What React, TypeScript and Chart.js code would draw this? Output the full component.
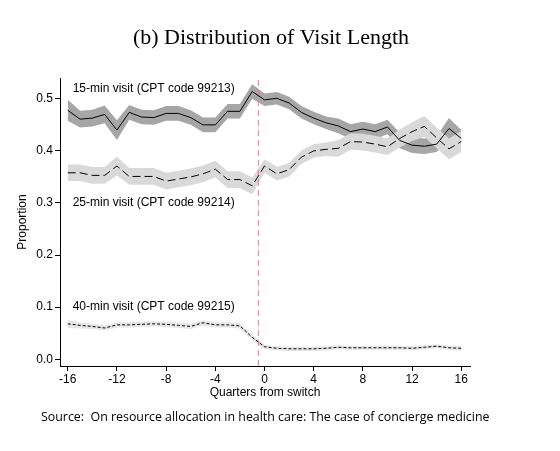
import React, { useEffect, useRef } from "react";
import { Chart, registerables } from "chart.js";

Chart.register(...registerables);

// ---- data ----
const quarters = [-16, -15, -14, -13, -12, -11, -10, -9, -8, -7, -6, -5, -4, -3, -2, -1, 0, 1, 2, 3, 4, 5, 6, 7, 8, 9, 10, 11, 12, 13, 14, 15, 16];

const visit15 = [0.478, 0.461, 0.463, 0.470, 0.440, 0.474, 0.465, 0.464, 0.472, 0.472, 0.464, 0.450, 0.450, 0.476, 0.476, 0.514, 0.498, 0.501, 0.492, 0.474, 0.463, 0.454, 0.448, 0.437, 0.442, 0.437, 0.446, 0.420, 0.411, 0.409, 0.413, 0.443, 0.424];
const visit15Ci = [0.020, 0.016, 0.016, 0.017, 0.019, 0.014, 0.014, 0.014, 0.014, 0.014, 0.014, 0.014, 0.014, 0.014, 0.014, 0.014, 0.012, 0.012, 0.012, 0.012, 0.012, 0.012, 0.014, 0.014, 0.014, 0.014, 0.014, 0.015, 0.015, 0.015, 0.015, 0.020, 0.016];

const visit25 = [0.358, 0.358, 0.353, 0.353, 0.371, 0.351, 0.351, 0.351, 0.342, 0.346, 0.350, 0.356, 0.365, 0.345, 0.345, 0.333, 0.371, 0.356, 0.364, 0.388, 0.400, 0.403, 0.405, 0.418, 0.417, 0.413, 0.408, 0.424, 0.437, 0.447, 0.425, 0.404, 0.418];
const visit25Ci = [0.016, 0.016, 0.016, 0.016, 0.018, 0.016, 0.016, 0.016, 0.016, 0.016, 0.016, 0.016, 0.016, 0.016, 0.016, 0.016, 0.013, 0.013, 0.013, 0.013, 0.013, 0.013, 0.016, 0.016, 0.016, 0.016, 0.016, 0.017, 0.018, 0.020, 0.020, 0.020, 0.020];

const visit40 = [0.068, 0.065, 0.063, 0.060, 0.066, 0.066, 0.067, 0.068, 0.067, 0.065, 0.063, 0.070, 0.066, 0.066, 0.064, 0.042, 0.024, 0.021, 0.020, 0.020, 0.020, 0.021, 0.023, 0.022, 0.022, 0.022, 0.022, 0.022, 0.021, 0.023, 0.025, 0.022, 0.021];
const visit40Ci = [0.008, 0.006, 0.005, 0.005, 0.005, 0.005, 0.005, 0.005, 0.005, 0.005, 0.005, 0.005, 0.005, 0.005, 0.005, 0.005, 0.004, 0.004, 0.004, 0.004, 0.004, 0.004, 0.004, 0.004, 0.004, 0.004, 0.004, 0.004, 0.004, 0.004, 0.004, 0.004, 0.005];

const xTicks = [-16, -12, -8, -4, 0, 4, 8, 12, 16];
const yTicks = [0, 0.1, 0.2, 0.3, 0.4, 0.5];
const switchQuarter = -0.5;

const seriesLabels = ["15-min visit (CPT code 99213)", "25-min visit (CPT code 99214)", "40-min visit (CPT code 99215)"];
const labelAnchorX = [-15.6, -15.6, -15.6];
const labelAnchorY = [0.52, 0.30, 0.10];

const chartTitle = "(b) Distribution of Visit Length";
const sourceNote = "Source:  On resource allocation in health care: The case of concierge medicine";

const X_MIN = -16.63;
const X_MAX = 16.71;
const Y_MIN = -0.013;
const Y_MAX = 0.54;

const pts = (vals: number[]) => quarters.map((q, i) => ({ x: q, y: vals[i] }));
const bandPts = (vals: number[], ci: number[], sign: number) =>
  quarters.map((q, i) => ({ x: q, y: vals[i] + sign * ci[i] }));

const textPlugin = {
  id: "textPlugin",
  afterDraw(chart: any) {
    const { ctx, scales } = chart;
    ctx.save();
    ctx.fillStyle = "#000";
    // series labels
    ctx.font = "12px 'Liberation Sans', Arial, sans-serif";
    ctx.textAlign = "left";
    ctx.textBaseline = "middle";
    seriesLabels.forEach((s, i) => {
      ctx.fillText(s, scales.x.getPixelForValue(labelAnchorX[i]), scales.y.getPixelForValue(labelAnchorY[i]));
    });
    // title
    ctx.font = "22px 'Liberation Serif', 'Times New Roman', serif";
    ctx.textAlign = "center";
    ctx.textBaseline = "alphabetic";
    ctx.fillText(chartTitle, 271, 44);
    // source
    ctx.font = "12.4px 'Open Sans', sans-serif";
    ctx.textAlign = "left";
    ctx.fillText(sourceNote, 41, 421);
    ctx.restore();
  },
};

export default function App() {
  const ref = useRef<HTMLCanvasElement | null>(null);

  useEffect(() => {
    if (!ref.current) return;
    const bandBase = {
      borderWidth: 0,
      borderColor: "rgba(0,0,0,0)",
      pointRadius: 0,
      tension: 0,
    };
    const lineBase = {
      borderColor: "#000",
      borderWidth: 1,
      pointRadius: 0,
      fill: false,
      tension: 0,
      order: 0,
    };
    const chart = new Chart(ref.current, {
      type: "line",
      data: {
        datasets: [
          { ...lineBase, label: "15", data: pts(visit15) },
          { ...lineBase, label: "25", data: pts(visit25), borderDash: [8, 4] },
          { ...lineBase, label: "40", data: pts(visit40), borderDash: [3, 2] },
          {
            ...lineBase,
            label: "switch",
            data: [
              { x: switchQuarter, y: Y_MIN },
              { x: switchQuarter, y: Y_MAX },
            ],
            borderColor: "#f47a7a",
            borderDash: [6, 4],
          },
          { ...bandBase, label: "lo15", data: bandPts(visit15, visit15Ci, -1), fill: false, order: 3 },
          { ...bandBase, label: "hi15", data: bandPts(visit15, visit15Ci, 1), fill: 4, backgroundColor: "#a6a6a6", order: 3 },
          { ...bandBase, label: "lo25", data: bandPts(visit25, visit25Ci, -1), fill: false, order: 2 },
          { ...bandBase, label: "hi25", data: bandPts(visit25, visit25Ci, 1), fill: 6, backgroundColor: "#d9d9d9", order: 2 },
          { ...bandBase, label: "lo40", data: bandPts(visit40, visit40Ci, -1), fill: false, order: 2 },
          { ...bandBase, label: "hi40", data: bandPts(visit40, visit40Ci, 1), fill: 8, backgroundColor: "#e6e6e6", order: 2 },
        ] as any,
      },
      options: {
        animation: false,
        responsive: true,
        maintainAspectRatio: false,
        layout: { padding: { left: 0, right: 90, top: 78, bottom: 50 } },
        plugins: {
          legend: { display: false },
          tooltip: { enabled: false },
          title: { display: false },
        },
        scales: {
          x: {
            type: "linear",
            min: X_MIN,
            max: X_MAX,
            afterFit: (s: any) => {
              s.height = 35;
            },
            afterBuildTicks: (s: any) => {
              s.ticks = xTicks.map((v) => ({ value: v }));
            },
            border: { display: true, color: "#000", width: 1 },
            grid: { display: true, drawOnChartArea: false, drawTicks: true, tickLength: 5, color: "#000" },
            ticks: {
              autoSkip: false,
              maxRotation: 0,
              padding: 1,
              color: "#000",
              font: { family: "'Liberation Sans', Arial, sans-serif", size: 12 },
              callback: (v: any) => String(v),
            },
            title: {
              display: true,
              text: "Quarters from switch",
              color: "#000",
              font: { family: "'Liberation Sans', Arial, sans-serif", size: 12 },
              padding: { top: 0, bottom: 1 },
            },
          },
          y: {
            type: "linear",
            min: Y_MIN,
            max: Y_MAX,
            afterFit: (s: any) => {
              s.width = 60;
            },
            afterBuildTicks: (s: any) => {
              s.ticks = yTicks.map((v) => ({ value: v }));
            },
            border: { display: true, color: "#000", width: 1 },
            grid: { display: true, drawOnChartArea: false, drawTicks: true, tickLength: 5, color: "#000" },
            ticks: {
              padding: 2,
              color: "#000",
              font: { family: "'Liberation Sans', Arial, sans-serif", size: 12 },
              callback: (v: any) => Number(v).toFixed(1),
            },
            title: {
              display: true,
              text: "Proportion",
              color: "#000",
              font: { family: "'Liberation Sans', Arial, sans-serif", size: 12 },
              padding: { top: 15, bottom: 0 },
            },
          },
        },
      },
      plugins: [textPlugin],
    });
    return () => chart.destroy();
  }, []);

  return (
    <div style={{ position: "fixed", left: 0, top: 0, width: 560, height: 451, background: "#fff" }}>
      <canvas ref={ref} />
    </div>
  );
}
